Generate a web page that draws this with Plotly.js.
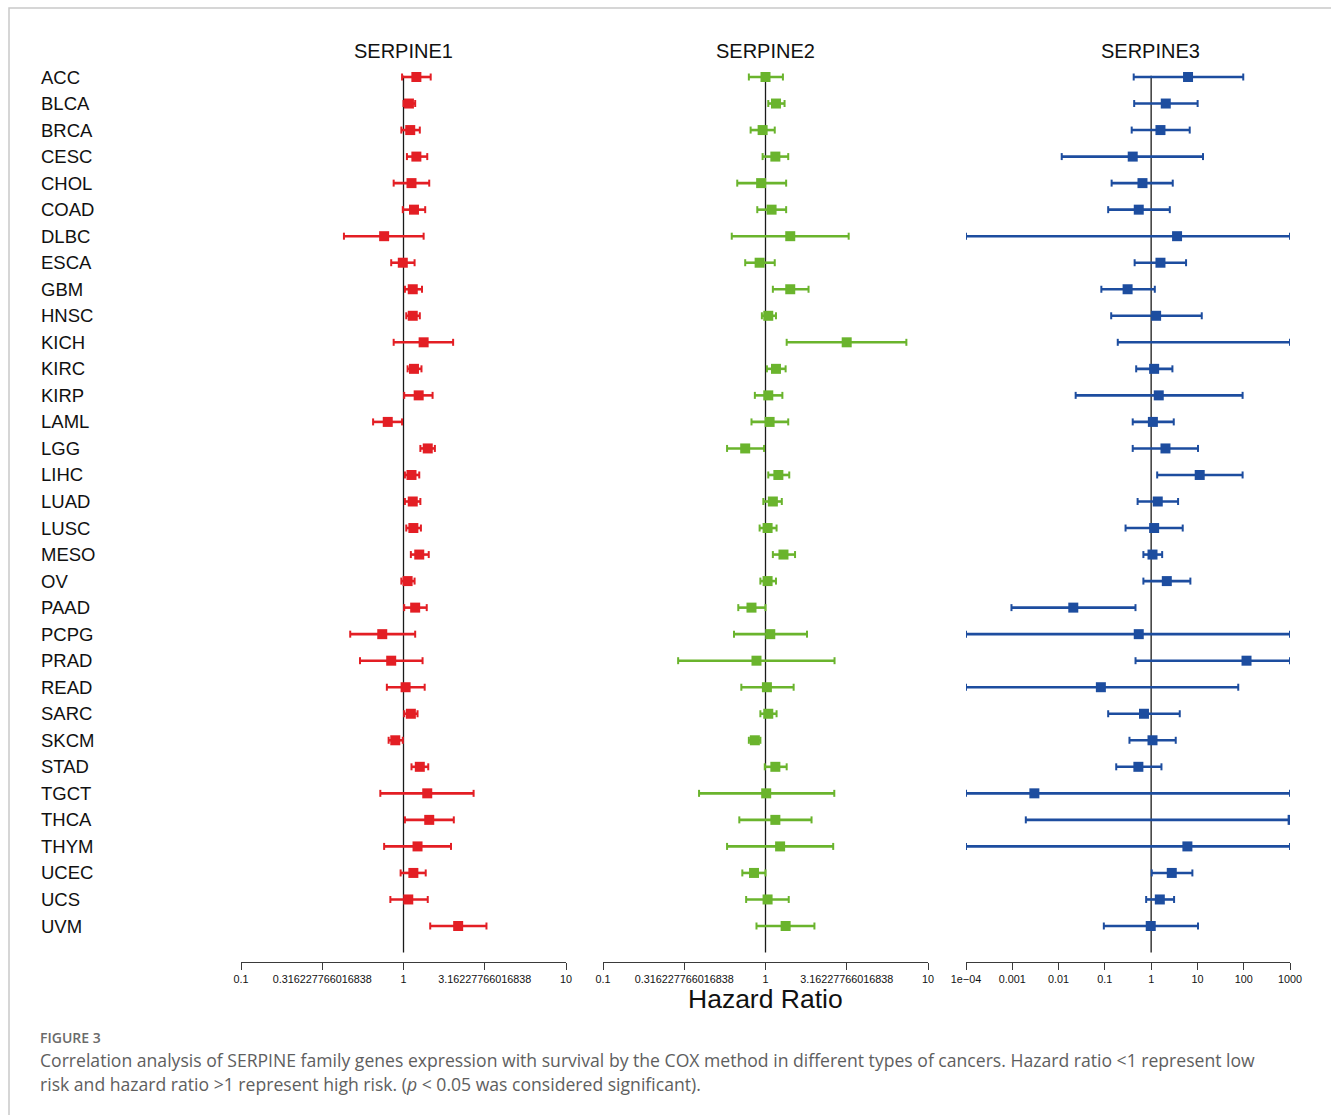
<!DOCTYPE html>
<html>
<head>
<meta charset="utf-8">
<script src="https://cdn.plot.ly/plotly-3.0.1.min.js"></script>
<style>
  html, body { margin: 0; padding: 0; background: #ffffff; }
  #chart { width: 1331px; height: 1115px; }
</style>
</head>
<body>
<div id="chart"></div>
<script>
// Cancer types (TCGA abbreviations), top to bottom
const cancers = ["ACC","BLCA","BRCA","CESC","CHOL","COAD","DLBC","ESCA","GBM","HNSC","KICH",
  "KIRC","KIRP","LAML","LGG","LIHC","LUAD","LUSC","MESO","OV","PAAD","PCPG","PRAD","READ",
  "SARC","SKCM","STAD","TGCT","THCA","THYM","UCEC","UCS","UVM"];

// SERPINE1: hazard ratio with 95% CI
const serpine1Hr = [1.20,1.08,1.10,1.20,1.12,1.16,0.76,0.99,1.14,1.14,1.33,1.16,1.24,0.80,1.41,1.12,
  1.14,1.15,1.25,1.06,1.18,0.74,0.84,1.03,1.11,0.89,1.26,1.40,1.44,1.22,1.15,1.07,2.17];
const serpine1Lo = [0.98,1.00,0.97,1.05,0.87,0.99,0.43,0.84,1.02,1.04,0.87,1.06,1.01,0.65,1.27,1.02,
  1.02,1.04,1.11,0.97,1.01,0.47,0.54,0.79,1.01,0.81,1.12,0.72,1.02,0.76,0.96,0.83,1.46];
const serpine1Hi = [1.47,1.18,1.26,1.40,1.44,1.36,1.33,1.17,1.30,1.26,2.02,1.29,1.51,0.98,1.56,1.25,
  1.27,1.28,1.43,1.17,1.39,1.18,1.31,1.35,1.22,0.99,1.42,2.70,2.04,1.96,1.37,1.41,3.24];

// SERPINE2: hazard ratio with 95% CI
const serpine2Hr = [1.00,1.16,0.96,1.15,0.94,1.09,1.42,0.92,1.42,1.04,3.16,1.16,1.04,1.06,0.75,1.20,
  1.11,1.03,1.29,1.03,0.82,1.07,0.88,1.02,1.04,0.86,1.15,1.01,1.15,1.23,0.85,1.03,1.33];
const serpine2Lo = [0.79,1.04,0.81,0.96,0.67,0.89,0.62,0.75,1.11,0.95,1.35,1.02,0.86,0.82,0.58,1.04,
  0.97,0.92,1.11,0.93,0.68,0.64,0.29,0.71,0.93,0.79,0.99,0.39,0.69,0.58,0.72,0.76,0.88];
const serpine2Hi = [1.28,1.31,1.14,1.38,1.34,1.34,3.25,1.14,1.84,1.16,7.36,1.33,1.27,1.38,0.98,1.40,
  1.26,1.17,1.52,1.16,1.00,1.80,2.66,1.49,1.17,0.93,1.35,2.65,1.92,2.61,1.00,1.39,2.00];

// SERPINE3: hazard ratio with 95% CI (some intervals run past the axis limits)
const serpine3Hr = [6.27,2.07,1.59,0.40,0.65,0.54,3.63,1.59,0.31,1.28,2000,1.16,1.46,1.09,2.04,11.2,
  1.39,1.16,1.07,2.18,0.0208,0.54,115,0.082,0.70,1.07,0.53,0.0030,1140,6.07,2.79,1.54,0.98];
const serpine3Lo = [0.42,0.43,0.38,0.0117,0.14,0.118,0.000002,0.44,0.084,0.137,0.19,0.475,0.0234,0.40,0.40,1.35,
  0.51,0.28,0.68,0.68,0.00096,0.000001,0.46,0.000003,0.118,0.34,0.176,0.000001,0.00196,0.000002,1.03,0.78,0.095];
const serpine3Hi = [97.7,10.1,6.81,13.2,2.93,2.53,5000000,5.68,1.20,12.4,5000000,2.88,94.6,3.08,10.3,94.6,
  3.82,4.81,1.73,7.04,0.459,3000000,2000000,76.2,4.15,3.40,1.67,3000000,4000000,5000000,7.78,3.13,10.3];

// Axis tick labels
const tickValsNarrow = [0.1, 0.316227766016838, 1, 3.16227766016838, 10];
const tickTextNarrow = ["0.1", "0.316227766016838", "1", "3.16227766016838", "10"];
const tickValsWide = [1e-4, 0.001, 0.01, 0.1, 1, 10, 100, 1000];
const tickTextWide = ["1e\u221204", "0.001", "0.01", "0.1", "1", "10", "100", "1000"];

const geneNames = ["SERPINE1", "SERPINE2", "SERPINE3"];

const W = 1331, H = 1115;
const px = v => v / W;
const py = v => 1 - v / H;

const panels = [
  { hr: serpine1Hr, lo: serpine1Lo, hi: serpine1Hi, color: "#e31e24", lim: [0.1, 10],
    xa: "x", dom: [241, 566], vals: tickValsNarrow, text: tickTextNarrow },
  { hr: serpine2Hr, lo: serpine2Lo, hi: serpine2Hi, color: "#6ab42d", lim: [0.1, 10],
    xa: "x2", dom: [603, 928], vals: tickValsNarrow, text: tickTextNarrow },
  { hr: serpine3Hr, lo: serpine3Lo, hi: serpine3Hi, color: "#1d4d9f", lim: [1e-4, 1000],
    xa: "x3", dom: [966, 1290], vals: tickValsWide, text: tickTextWide }
];

const clamp = (v, lim) => Math.min(Math.max(v, lim[0]), lim[1]);
const rows = cancers.map((_, i) => i);

const traces = [];
panels.forEach(p => {
  const wx = [], wy = [], cx = [], cy = [];
  rows.forEach(i => {
    const a = clamp(p.lo[i], p.lim), b = clamp(p.hi[i], p.lim);
    wx.push(a, b, null); wy.push(i, i, null);
    cx.push(a, b); cy.push(i, i);
  });
  // confidence interval whiskers
  traces.push({ type: "scatter", mode: "lines", x: wx, y: wy, xaxis: p.xa, yaxis: "y",
    line: { color: p.color, width: 2.6 }, hoverinfo: "skip", showlegend: false });
  // whisker end caps
  traces.push({ type: "scatter", mode: "markers", x: cx, y: cy, xaxis: p.xa, yaxis: "y",
    marker: { symbol: "line-ns", size: 5, line: { color: p.color, width: 2 } },
    hoverinfo: "skip", showlegend: false });
  // hazard ratio boxes
  traces.push({ type: "scatter", mode: "markers", x: p.hr, y: rows, xaxis: p.xa, yaxis: "y",
    marker: { symbol: "square", size: 10, color: p.color, line: { width: 0 } },
    text: cancers, hovertemplate: "%{text}: HR %{x}<extra></extra>", showlegend: false, cliponaxis: true });
});

// Row spacing: first row at 77px, last at 926px; plot band 50px..962px
const rowStep = (926 - 77) / 32;
const yTop = -(77 - 50) / rowStep;
const yBottom = 32 + (962 - 926) / rowStep;

const axisBase = {
  type: "log", anchor: "y", showgrid: false, zeroline: false,
  showline: true, linecolor: "#3a3a3a", linewidth: 1,
  ticks: "outside", ticklen: 7, tickcolor: "#3a3a3a", tickwidth: 1,
  tickfont: { family: "Liberation Sans, Arial, sans-serif", size: 10.8, color: "#111" },
  tickmode: "array", fixedrange: true
};

const layout = {
  width: W, height: H,
  margin: { l: 0, r: 0, t: 0, b: 0 },
  paper_bgcolor: "#ffffff", plot_bgcolor: "rgba(0,0,0,0)",
  showlegend: false,
  yaxis: { domain: [py(962), py(50)], range: [yBottom, yTop], visible: false, fixedrange: true },
  shapes: [
    // figure frame
    { type: "rect", xref: "paper", yref: "paper", x0: px(9), x1: px(1400), y0: py(1200), y1: py(8),
      line: { color: "#c9c9c9", width: 1.5 }, fillcolor: "rgba(0,0,0,0)", layer: "below" }
  ],
  annotations: []
};

// title centres sit over the HR = 1 line of each panel
const titleX = [403, 765, 1150];

panels.forEach((p, k) => {
  const name = k === 0 ? "xaxis" : "xaxis" + (k + 1);
  layout[name] = Object.assign({}, axisBase, {
    domain: [px(p.dom[0]), px(p.dom[1])],
    range: [Math.log10(p.lim[0]), Math.log10(p.lim[1])],
    tickvals: p.vals, ticktext: p.text
  });
  // no-effect reference line at HR = 1
  layout.shapes.push({ type: "line", xref: p.xa, yref: "y", x0: 1, x1: 1, y0: -0.05, y1: 33.0,
    line: { color: "#1a1a1a", width: 1.3 }, layer: "below" });
  // gene title
  layout.annotations.push({ text: geneNames[k], xref: "paper", yref: "paper",
    x: px(titleX[k]), y: py(51), xanchor: "center", yanchor: "middle",
    showarrow: false, font: { family: "Liberation Sans, Arial, sans-serif", size: 20, color: "#111" } });
});

// cancer type labels
cancers.forEach((c, i) => {
  layout.annotations.push({ text: c, xref: "paper", yref: "y", x: px(39), y: i,
    xanchor: "left", yanchor: "middle", showarrow: false,
    font: { family: "Liberation Sans, Arial, sans-serif", size: 18.5, color: "#111" } });
});

// shared axis title
layout.annotations.push({ text: "Hazard Ratio", xref: "paper", yref: "paper",
  x: px(765), y: py(999), xanchor: "center", yanchor: "middle", showarrow: false,
  font: { family: "Liberation Sans, Arial, sans-serif", size: 26.5, color: "#111" } });

// figure caption
layout.annotations.push({ text: "FIGURE 3", xref: "paper", yref: "paper",
  x: px(39), y: py(1037), xanchor: "left", yanchor: "middle", showarrow: false, borderpad: 0,
  font: { family: "Open Sans, sans-serif", size: 14, color: "#6a6a6a", weight: 600 } });
layout.annotations.push({ text: "Correlation analysis of SERPINE family genes expression with survival by the COX method in different types of cancers. Hazard ratio &lt;1 represent low",
  xref: "paper", yref: "paper", x: px(39), y: py(1060), xanchor: "left", yanchor: "middle", borderpad: 0,
  showarrow: false, font: { family: "Open Sans, sans-serif", size: 17.6, color: "#5e5e5e" } });
layout.annotations.push({ text: "risk and hazard ratio &gt;1 represent high risk. (<i>p</i> &lt; 0.05 was considered significant).",
  xref: "paper", yref: "paper", x: px(39), y: py(1084), xanchor: "left", yanchor: "middle", borderpad: 0,
  showarrow: false, font: { family: "Open Sans, sans-serif", size: 17.6, color: "#5e5e5e" } });

Plotly.newPlot("chart", traces, layout, { displayModeBar: false, staticPlot: true });
</script>
</body>
</html>
